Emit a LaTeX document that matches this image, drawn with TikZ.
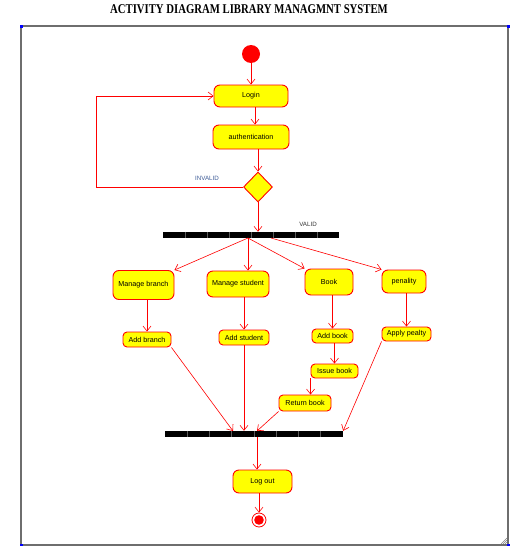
\documentclass[tikz,border=0pt]{standalone}
\usepackage{fontspec}
\setmainfont{Liberation Sans}
\newfontfamily\titlefont[FakeStretch=0.8]{Liberation Serif}
\usetikzlibrary{shapes.geometric,arrows.meta,calc}

\definecolor{actfill}{RGB}{255,255,0}
\definecolor{guardtext}{RGB}{60,90,150}
\definecolor{framegray}{RGB}{110,110,110}

\tikzset{
	act/.style={rectangle,rounded corners=6pt,draw=red,fill=actfill,
		line width=0.9pt,inner sep=0pt,font=\fontsize{7.2}{8}\selectfont},
	smallact/.style={act,rounded corners=4pt},
	flow/.style={draw=red,line width=0.6pt,-{Straight Barb[length=5pt,width=8pt]}},
	syncbar/.style={rectangle,fill=black,inner sep=0pt,minimum height=6pt},
	guard/.style={font=\fontsize{6.2}{7}\selectfont,text=guardtext,inner sep=0pt}
}

\begin{document}
\begin{tikzpicture}[x=1pt,y=-1pt]
	    % Setup the page and the frame
	    \useasboundingbox (0,0) rectangle (527,546);
	    \draw [framegray,line width=1.6pt] (21,26) rectangle (508,545);
	    \foreach \cx/\cy in {21/26, 508/26, 21/545, 508/545}
		\fill [blue] (\cx-1.5,\cy-1.5) rectangle ++(3,3);
	    \foreach \k in {2,4,6}
		\draw [gray,line width=0.5pt] (507-\k,544) -- (507,544-\k);

	    \node (title) at (249,9)
		{\titlefont\bfseries\fontsize{13.4}{13}\selectfont ACTIVITY DIAGRAM LIBRARY MANAGMNT SYSTEM};

	    % Start, login and the check
	    \node (start) [circle,fill=red,minimum size=18pt,inner sep=0pt] at (251,54) {};
	    \node (login) [act,minimum width=74pt,minimum height=22pt] at (251,96) {Login};
	    \node (auth)  [act,minimum width=76pt,minimum height=24pt] at (251,137) {authentication};
	    \node (dia)   [diamond,draw=red,fill=actfill,line width=0.9pt,
		inner sep=0pt,minimum width=29pt,minimum height=30pt] at (258,187) {};
	    \coordinate (spine) at (255,0);
	    \coordinate (back)  at (96,187);

	    \draw [flow] (start) -- (login);
	    \draw [flow] (login.south -| spine) -- (auth.north -| spine);
	    \draw [flow] (auth.south -| dia) -- (dia.north);
	    \draw [flow] (dia.west) -- (back) |- (login.west);
	    \node [guard] at (207,178) {INVALID};

	    % The fork
	    \node (fork) [syncbar,minimum width=176pt] at (251,235) {};
	    \foreach \k in {1,...,7}
		\draw [black!65,line width=0.3pt] ($(fork.north west)+(22*\k,0)$) -- ++(0,6);
	    \draw [flow] (dia.south) -- (dia.south |- fork.north);
	    \node [guard,text=black!80] at (308,224) {VALID};
	    \coordinate (forkA) at (248,238);
	    \coordinate (forkB) at (271,238);

	    % The four branches
	    \node (mbranch) [act,minimum width=61pt,minimum height=29pt] at (143.5,285) {Manage branch};
	    \node (mstud)   [act,minimum width=62pt,minimum height=26pt] at (238,284) {Manage student};
	    \node (book)    [act,minimum width=48pt,minimum height=26pt] at (329,282) {Book};
	    \node (pen)     [act,minimum width=44pt,minimum height=23pt] at (404,281.5) {penality};

	    \draw [flow] (forkA) -- (mbranch.north east);
	    \draw [flow] (forkA) -- (forkA |- mstud.north);
	    \draw [flow] (forkA) -- (book.north west);
	    \draw [flow] (forkB) -- (pen.north west);

	    \node (addbr)  [smallact,minimum width=48pt,minimum height=15pt] at (147,339.5) {Add branch};
	    \node (addst)  [smallact,minimum width=50pt,minimum height=15pt] at (244,337.5) {Add student};
	    \node (addbk)  [smallact,minimum width=41pt,minimum height=14pt] at (332.5,336) {Add book};
	    \node (issue)  [smallact,minimum width=47pt,minimum height=14pt] at (334.5,371) {Issue book};
	    \node (ret)    [smallact,minimum width=52pt,minimum height=16pt] at (305,403) {Return book};
	    \node (apply)  [smallact,minimum width=49pt,minimum height=14pt] at (406.5,334) {Apply pealty};

	    \draw [flow] (addbr.north |- mbranch.south) -- (addbr.north);
	    \draw [flow] (addst.north |- mstud.south) -- (addst.north);
	    \draw [flow] (addbk.north |- book.south) -- (addbk.north);
	    \draw [flow] (issue.north |- addbk.south) -- (issue.north);
	    \draw [flow] (issue.south west) -- (issue.south west |- ret.north);
	    \draw [flow] (apply.north |- pen.south) -- (apply.north);

	    % The join
	    \node (join) [syncbar,minimum width=178pt] at (254,434) {};
	    \foreach \k in {1,...,7}
		\draw [black!65,line width=0.3pt] ($(join.north west)+(22.25*\k,0)$) -- ++(0,6);
	    \coordinate (joinA) at (233,431);
	    \coordinate (joinB) at (257,431);

	    \draw [flow] (addbr.south east) -- (joinA);
	    \draw [flow] (addst.south) -- (addst.south |- join.north);
	    \draw [flow] (ret.south west) -- (joinB);
	    \draw [flow] (apply.south west) -- (join.north east);

	    % Log out and the end
	    \node (logout) [act,minimum width=59pt,minimum height=23pt] at (262.5,481.5) {Log out};
	    \node (end) [circle,draw=red,line width=0.8pt,minimum size=14pt,inner sep=0pt] at (259,520) {};
	    \fill [red] (end) circle (4.8);

	    \draw [flow] (joinB |- join.south) -- (logout.north -| joinB);
	    \draw [flow] (end |- logout.south) -- (end.north);
\end{tikzpicture}
\end{document}
